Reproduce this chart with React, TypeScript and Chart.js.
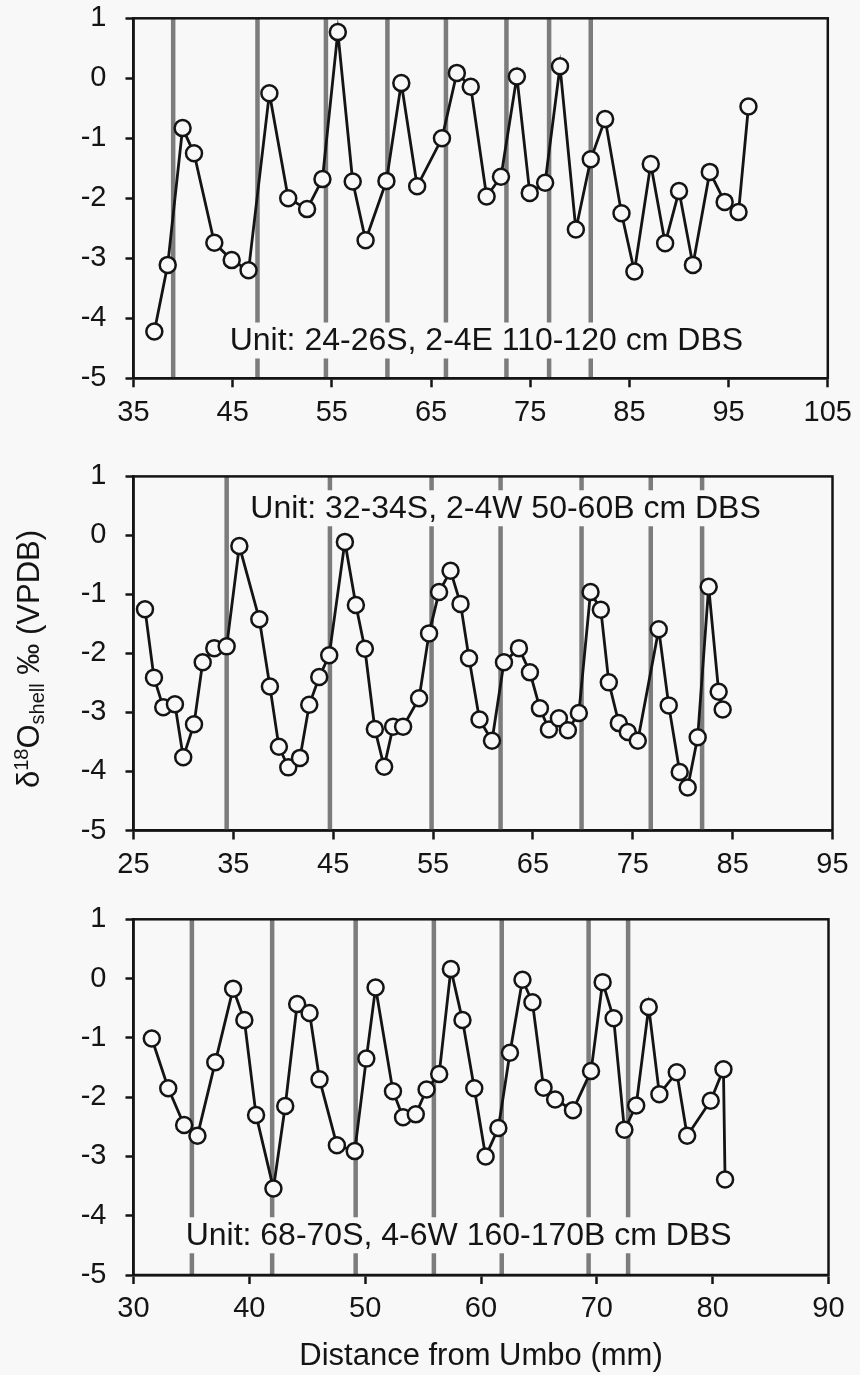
import React, { useEffect, useRef } from 'react';
import { Chart, registerables } from 'chart.js';

Chart.register(...registerables);

const FONT = '"Liberation Sans", Arial, Helvetica, sans-serif';
const INK = '#141414';
const BG = '#f8f8f8';
const BAR = '#7c7c7c';

// ---------- Panel 1: Unit 24-26S, 2-4E 110-120 cm DBS ----------
const dist1 = [37.1, 38.45, 39.95, 41.1, 43.15, 44.9, 46.6, 48.7, 50.6, 52.5, 54.05, 55.6, 57.1, 58.4, 60.5, 62.0, 63.6, 66.1, 67.6, 69.0, 70.6, 72.05, 73.65, 74.95, 76.5, 78.0, 79.6, 81.1, 82.55, 84.2, 85.5, 87.15, 88.6, 90.0, 91.4, 93.1, 94.6, 96.0, 97.0];
const d18O1 = [-4.22, -3.11, -0.83, -1.25, -2.74, -3.03, -3.2, -0.25, -2.0, -2.18, -1.68, 0.77, -1.72, -2.7, -1.71, -0.08, -1.8, -1.0, 0.09, -0.14, -1.97, -1.64, 0.03, -1.91, -1.74, 0.2, -2.52, -1.35, -0.68, -2.25, -3.22, -1.43, -2.75, -1.88, -3.11, -1.56, -2.06, -2.23, -0.47];
const growthLines1 = [39.0, 47.5, 54.4, 60.6, 66.5, 72.6, 76.9, 81.1];
const xTicks1 = [35, 45, 55, 65, 75, 85, 95, 105];
const unit1 = 'Unit: 24-26S, 2-4E 110-120 cm DBS';

// ---------- Panel 2: Unit 32-34S, 2-4W 50-60B cm DBS ----------
const dist2 = [26.15, 27.05, 27.98, 29.15, 29.98, 31.06, 31.93, 33.09, 34.33, 35.6, 37.6, 38.66, 39.56, 40.5, 41.67, 42.6, 43.6, 44.6, 46.17, 47.27, 48.17, 49.17, 50.1, 51.0, 52.0, 53.6, 54.6, 55.6, 56.75, 57.75, 58.6, 59.65, 60.9, 62.1, 63.6, 64.7, 65.7, 66.6, 67.6, 68.5, 69.6, 70.77, 71.8, 72.6, 73.6, 74.5, 75.5, 77.6, 78.6, 79.7, 80.5, 81.5, 82.6, 83.6, 84.0];
const d18O2 = [-1.25, -2.41, -2.91, -2.86, -3.76, -3.2, -2.15, -1.91, -1.88, -0.18, -1.42, -2.56, -3.58, -3.93, -3.77, -2.87, -2.4, -2.03, -0.11, -1.18, -1.92, -3.28, -3.92, -3.24, -3.24, -2.76, -1.66, -0.96, -0.6, -1.16, -2.08, -3.12, -3.48, -2.15, -1.91, -2.32, -2.93, -3.29, -3.1, -3.3, -3.01, -0.96, -1.26, -2.49, -3.18, -3.33, -3.48, -1.59, -2.88, -4.01, -4.27, -3.42, -0.87, -2.65, -2.95];
const growthLines2 = [34.33, 44.67, 54.85, 61.76, 69.87, 76.8, 81.94];
const xTicks2 = [25, 35, 45, 55, 65, 75, 85, 95];
const unit2 = 'Unit: 32-34S, 2-4W 50-60B cm DBS';

// ---------- Panel 3: Unit 68-70S, 4-6W 160-170B cm DBS ----------
const dist3 = [31.58, 33.0, 34.37, 35.52, 37.06, 38.6, 39.57, 40.58, 42.08, 43.1, 44.13, 45.2, 46.06, 47.56, 49.1, 50.1, 50.9, 52.4, 53.27, 54.37, 55.3, 56.39, 57.4, 58.4, 59.42, 60.4, 61.5, 62.5, 63.58, 64.44, 65.4, 66.4, 67.94, 69.5, 70.5, 71.45, 72.38, 73.4, 74.48, 75.4, 76.9, 77.8, 79.83, 80.93, 81.07];
const d18O3 = [-1.01, -1.85, -2.47, -2.65, -1.41, -0.17, -0.7, -2.3, -3.54, -2.15, -0.43, -0.58, -1.7, -2.81, -2.91, -1.35, -0.15, -1.9, -2.34, -2.29, -1.87, -1.61, 0.16, -0.7, -1.85, -3.0, -2.52, -1.25, -0.02, -0.4, -1.84, -2.04, -2.22, -1.56, -0.06, -0.67, -2.55, -2.14, -0.48, -1.95, -1.58, -2.65, -2.06, -1.53, -3.39];
const growthLines3 = [35.04, 41.97, 49.18, 55.93, 61.79, 69.29, 72.7];
const xTicks3 = [30, 40, 50, 60, 70, 80, 90];
const unit3 = 'Unit: 68-70S, 4-6W 160-170B cm DBS';

const yTicks = [-5, -4, -3, -2, -1, 0, 1];
const xAxisTitle = 'Distance from Umbo (mm)';

interface PanelCfg {
  xs: number[];
  ys: number[];
  bars: number[];
  xTicks: number[];
  label: string;
  labelX: number; // data coords (left of text)
  labelY: number; // data coords (middle of text)
  top: number;
  height: number;
  areaTop: number;
  areaBottom: number;
  areaRight: number;
  yTitle: boolean;
  xTitle: boolean;
}

const panels: PanelCfg[] = [
  { xs: dist1, ys: d18O1, bars: growthLines1, xTicks: xTicks1, label: unit1, labelX: 44.7, labelY: -4.37,
    top: -30, height: 470, areaTop: 18.3, areaBottom: 378.3, areaRight: 830, yTitle: false, xTitle: false },
  { xs: dist2, ys: d18O2, bars: growthLines2, xTicks: xTicks2, label: unit2, labelX: 36.7, labelY: 0.46,
    top: 440, height: 440, areaTop: 473.3, areaBottom: 830.5, areaRight: 832.5, yTitle: true, xTitle: false },
  { xs: dist3, ys: d18O3, bars: growthLines3, xTicks: xTicks3, label: unit3, labelX: 34.5, labelY: -4.33,
    top: 880, height: 495, areaTop: 919.3, areaBottom: 1275, areaRight: 828.5, yTitle: false, xTitle: true },
];

function decorPlugin(cfg: PanelCfg) {
  return {
    id: 'panelDecor',
    beforeDatasetsDraw(chart: any) {
      const { ctx, chartArea: a, scales } = chart;
      const x = scales.x, y = scales.y;
      ctx.save();
      // growth line bands
      ctx.fillStyle = BAR;
      for (const b of cfg.bars) {
        const px = x.getPixelForValue(b);
        ctx.fillRect(px - 2.25, a.top, 4.5, a.bottom - a.top);
      }
      // unit label with background
      ctx.font = `32px ${FONT}`;
      const w = ctx.measureText(cfg.label).width;
      const lx = x.getPixelForValue(cfg.labelX);
      const ly = y.getPixelForValue(cfg.labelY);
      ctx.fillStyle = BG;
      ctx.fillRect(lx - 5, ly - 18, w + 10, 36);
      ctx.fillStyle = INK;
      ctx.textAlign = 'left';
      ctx.textBaseline = 'middle';
      ctx.fillText(cfg.label, lx, ly + 1);
      // frame
      ctx.strokeStyle = INK;
      ctx.lineWidth = 2.5;
      ctx.strokeRect(a.left, a.top, a.right - a.left, a.bottom - a.top);
      ctx.restore();
    },
    afterDraw(chart: any) {
      if (!cfg.yTitle) return;
      const { ctx } = chart;
      const parts = [
        { t: 'δ', size: 31, dy: 0 },
        { t: '18', size: 20, dy: -11 },
        { t: 'O', size: 31, dy: 0 },
        { t: 'shell', size: 20, dy: 5 },
        { t: ' ‰ (VPDB)', size: 31, dy: 0 },
      ];
      ctx.save();
      ctx.fillStyle = INK;
      ctx.textBaseline = 'alphabetic';
      ctx.textAlign = 'left';
      let total = 0;
      const widths = parts.map((p) => {
        ctx.font = `${p.size}px ${FONT}`;
        const w = ctx.measureText(p.t).width;
        total += w;
        return w;
      });
      ctx.translate(39, 659 - cfg.top);
      ctx.rotate(-Math.PI / 2);
      let cx = -total / 2;
      parts.forEach((p, i) => {
        ctx.font = `${p.size}px ${FONT}`;
        ctx.fillText(p.t, cx, p.dy);
        cx += widths[i];
      });
      ctx.restore();
    },
  };
}

function Panel({ cfg }: { cfg: PanelCfg }) {
  const ref = useRef<HTMLCanvasElement | null>(null);
  useEffect(() => {
    if (!ref.current) return;
    const xHeight = cfg.height - cfg.areaBottom + cfg.top;
    const chart = new Chart(ref.current, {
      type: 'line',
      data: {
        datasets: [
          {
            data: cfg.xs.map((v, i) => ({ x: v, y: cfg.ys[i] })),
            borderColor: INK,
            borderWidth: 2.8,
            backgroundColor: BG,
            pointRadius: 8,
            pointBorderWidth: 2.5,
            pointBackgroundColor: BG,
            pointBorderColor: INK,
            tension: 0,
            clip: false as any,
          },
        ],
      },
      options: {
        responsive: false,
        animation: false,
        devicePixelRatio: 1,
        layout: { padding: { top: cfg.areaTop - cfg.top, right: 860 - cfg.areaRight, bottom: 0, left: 0 } },
        plugins: { legend: { display: false }, tooltip: { enabled: false } },
        scales: {
          x: {
            type: 'linear',
            min: cfg.xTicks[0],
            max: cfg.xTicks[cfg.xTicks.length - 1],
            afterBuildTicks: (s: any) => {
              s.ticks = cfg.xTicks.map((v) => ({ value: v }));
            },
            afterFit: (s: any) => {
              s.height = xHeight;
            },
            ticks: { autoSkip: false, maxRotation: 0, minRotation: 0, color: INK, font: { family: FONT, size: 29 }, padding: 8 },
            grid: { drawOnChartArea: false, drawTicks: true, tickLength: 9, tickColor: INK, tickWidth: 2.5 },
            border: { display: true, color: INK, width: 2.5 },
            title: {
              display: cfg.xTitle,
              text: xAxisTitle,
              color: INK,
              font: { family: FONT, size: 31 },
              padding: { top: 0, bottom: 0 },
            },
          },
          y: {
            type: 'linear',
            min: -5,
            max: 1,
            afterBuildTicks: (s: any) => {
              s.ticks = yTicks.map((v) => ({ value: v }));
            },
            afterFit: (s: any) => {
              s.width = 133.5;
            },
            ticks: { autoSkip: false, color: INK, font: { family: FONT, size: 29 }, padding: 19 },
            grid: { drawOnChartArea: false, drawTicks: true, tickLength: 8, tickColor: INK, tickWidth: 2.5 },
            border: { display: true, color: INK, width: 2.5 },
          },
        },
      },
      plugins: [decorPlugin(cfg)],
    });
    return () => chart.destroy();
  }, [cfg]);
  return (
    <canvas
      ref={ref}
      width={860}
      height={cfg.height}
      style={{ position: 'absolute', left: 0, top: cfg.top, width: 860, height: cfg.height }}
    />
  );
}

export default function App() {
  return (
    <div style={{ position: 'absolute', left: 0, top: 0, width: 860, height: 1375, background: BG, overflow: 'hidden' }}>
      {panels.map((p, i) => (
        <Panel key={i} cfg={p} />
      ))}
    </div>
  );
}
